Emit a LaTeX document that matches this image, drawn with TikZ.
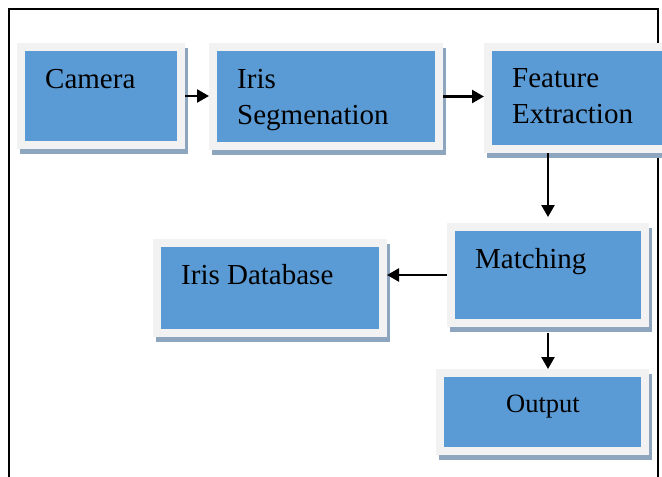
\documentclass[tikz,border=0pt]{standalone}
\usepackage{fontspec}
\setmainfont{Liberation Serif}
\usetikzlibrary{arrows.meta}
\definecolor{boxblue}{HTML}{5B9BD5}
\definecolor{boxrim}{HTML}{F2F2F2}
\definecolor{boxshade}{HTML}{8EA5BF}
\begin{document}
\begin{tikzpicture}
          [x=1pt,y=-1pt,
           block/.style={rectangle, draw=boxrim, fill=boxblue, line width=8pt, inner sep=0pt, outer sep=4pt,
             preaction={draw=boxshade, fill=boxshade, transform canvas={shift={(3pt,-5pt)}}}},
           word/.style={anchor=base west, inner sep=0pt, align=left, font=\fontsize{29}{36}\selectfont},
           arr/.style={-{Triangle[length=12pt,width=13pt]}, line width=2.4pt}]
        \useasboundingbox (0,0) rectangle (662,477);

        % frame, open at the bottom
        \draw[line width=2.6pt] (9,477) -- (9,9) -- (658,9) -- (658,477);

        \node[block, minimum width=160pt, minimum height=98pt] (cam) at (101,96) {};
        \node[block, minimum width=226pt, minimum height=99pt] (seg) at (326,96.5) {};
        \node[block, minimum width=188pt, minimum height=102pt] (fe) at (582,98) {};
        \node[block, minimum width=194pt, minimum height=96pt] (mt) at (548,275) {};
        \node[block, minimum width=226pt, minimum height=90pt] (db) at (270,288) {};
        \node[block, minimum width=205pt, minimum height=78pt] (op) at (542.5,412) {};

        % base of a two-line node is its last line
        \node[word] (cam-t) at (45,88) {Camera};
        \node[word] (seg-t) at (237,124) {Iris\\Segmenation};
        \node[word] (fe-t) at (512,123) {Feature\\Extraction};
        \node[word] (mt-t) at (475,268) {Matching};
        \node[word] (db-t) at (181,284) {Iris Database};
        \node[word, font=\fontsize{26.5}{32}\selectfont] (op-t) at (506,412) {Output};

        \foreach \from/\to in {cam.east/cam.east -| seg.west, seg.east/seg.east -| fe.west}
          \draw[arr] (\from) -- (\to);

        \draw[arr, shorten >=6pt] (fe.south -| mt.north) -- (mt.north);
        \draw[arr] (mt.west) -- (mt.west -| db.east);
        \draw[arr, shorten <=6pt] (mt.south) -- (mt.south |- op.north);
      \end{tikzpicture}
\end{document}
